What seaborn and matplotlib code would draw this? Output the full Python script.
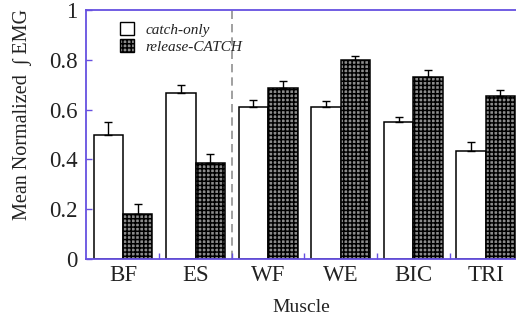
import matplotlib
matplotlib.use("Agg")
import matplotlib.pyplot as plt
import seaborn as sns
import pandas as pd
import numpy as np
from matplotlib.patches import Patch

muscles = ["BF", "ES", "WF", "WE", "BIC", "TRI"]
conditions = ["catch-only", "release-CATCH"]
catch_only = [0.50, 0.665, 0.61, 0.61, 0.55, 0.435]
catch_only_err = [0.05, 0.035, 0.03, 0.025, 0.02, 0.035]
release_catch = [0.18, 0.385, 0.685, 0.80, 0.73, 0.655]
release_catch_err = [0.04, 0.035, 0.03, 0.015, 0.03, 0.025]
yticks = [0, 0.2, 0.4, 0.6, 0.8, 1]
ytick_labels = ["0", "0.2", "0.4", "0.6", "0.8", "1"]

axis_color = "#6650e0"
text_color = "#222222"
hatch_face = "#8c8c8c"

sns.set_theme(style="white")
plt.rcParams["font.family"] = ["Liberation Serif", "DejaVu Serif"]
plt.rcParams["hatch.linewidth"] = 1.1

df = pd.DataFrame({
    "Muscle": muscles * 2,
    "Condition": [conditions[0]] * len(muscles) + [conditions[1]] * len(muscles),
    "Value": catch_only + release_catch,
})

fig = plt.figure(figsize=(5.16, 3.2), dpi=100)
ax = fig.add_axes([86 / 516, 61 / 320, 431 / 516, 249 / 320])

sns.barplot(data=df, x="Muscle", y="Value", hue="Condition", order=muscles,
            hue_order=conditions, palette=["white", hatch_face], width=0.81,
            errorbar=None, edgecolor="black", linewidth=1.1, ax=ax, legend=False)

# hatch the release bars and add upward-only error bars
n = len(muscles)
for i, p in enumerate(list(ax.patches)):
    cond = i // n
    if cond == 1:
        p.set_hatch("++++")
    xc = p.get_x() + p.get_width() / 2
    val = p.get_height()
    err = (catch_only_err if cond == 0 else release_catch_err)[i % n]
    ax.errorbar([xc], [val], yerr=[[0], [err]], fmt="none", ecolor="black",
                elinewidth=1.0, capsize=3, capthick=1.0, zorder=5)

# dashed separator between trunk and arm muscles
ax.axvline(1.5, color="#909090", linestyle=(0, (5, 3)), linewidth=1.2, zorder=0)

ax.set_xlim(-0.51, 5.43)
ax.set_ylim(0, 1)
ax.set_yticks(yticks)
ax.set_yticklabels(ytick_labels)
ax.set_xticks(range(n))
ax.set_xticklabels(muscles)
ax.set_xticks(np.arange(0.5, n - 1, 1.0), minor=True)
ax.tick_params(axis="y", direction="in", length=4, width=1.0, color=axis_color,
               labelsize=16.5, pad=6, labelcolor=text_color, left=True)
ax.tick_params(axis="x", which="major", length=0, labelsize=16.5, pad=4,
               labelcolor=text_color)
ax.tick_params(axis="x", which="minor", direction="in", length=4, width=1.0,
               color=axis_color, bottom=True)

for side in ["left", "bottom", "top"]:
    ax.spines[side].set_visible(True)
    ax.spines[side].set_color(axis_color)
    ax.spines[side].set_linewidth(1.3)
ax.spines["right"].set_visible(False)

ax.set_xlabel("Muscle", fontsize=14, color=text_color)
ax.xaxis.set_label_coords(0.5, -0.16)
ax.set_ylabel("Mean Normalized  \u222b EMG", fontsize=14.5, color=text_color)
ax.yaxis.set_label_coords(-0.125, 0.58)

handles = [Patch(facecolor="white", edgecolor="black", linewidth=1.0),
           Patch(facecolor=hatch_face, edgecolor="black", hatch="++++", linewidth=1.0)]
ax.legend(handles, conditions, loc="upper left", bbox_to_anchor=(0.05, 1.0),
          frameon=False, prop={"style": "italic", "size": 11},
          handlelength=0.9, handleheight=0.9, handletextpad=0.8,
          labelspacing=0.15, borderaxespad=0.4, labelcolor=text_color)

fig.savefig("out.png", dpi=100)
